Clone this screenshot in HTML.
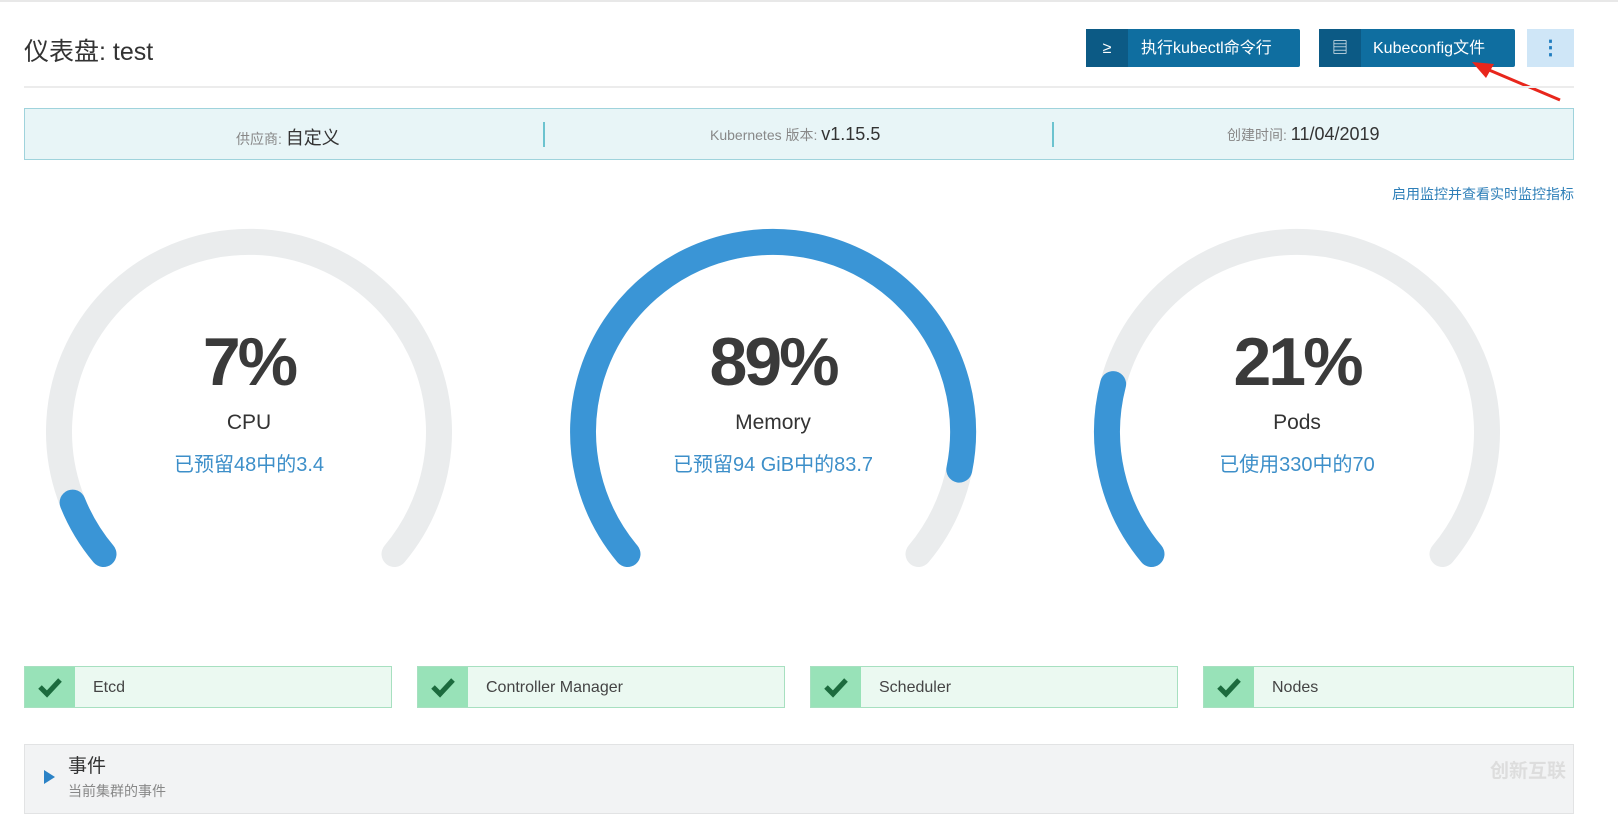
<!DOCTYPE html>
<html><head><meta charset="utf-8"><style>
body{margin:0;width:1618px;height:802px;background:#fff;font-family:"Liberation Sans","Noto Sans CJK SC",sans-serif;position:relative;overflow:hidden;color:#333}
.a{position:absolute}
.btn{position:absolute;top:29px;height:38px;background:#0f6ea0;color:#fff;font-size:16px;line-height:40px;border-radius:2px}
.btn .ic{position:absolute;left:0;top:0;width:42px;height:38px;background:#0c5a85;text-align:center}
.sb{position:absolute;top:666px;height:42px;width:368px;background:#ebf9f1;border:1px solid #a7e0c0;box-sizing:border-box}
.sb .ck{position:absolute;left:0;top:0;width:50px;height:40px;background:#98e2b8}
.sb .t{position:absolute;left:68px;top:0;line-height:41px;font-size:16px;color:#444}
.g{position:absolute;text-align:center;width:400px}
.pct{font-size:68px;font-weight:bold;color:#3a3a3a;letter-spacing:-3px}
.lbl{font-size:21px;color:#333}
.sub{font-size:20px;color:#3d8fc9}
</style></head><body>
<div class="a" style="top:0;left:0;width:1618px;height:2px;background:#e8e8e8"></div>
<div class="a" style="left:24px;top:32px;font-size:25px;color:#333">仪表盘: test</div>
<div class="btn" style="left:1086px;width:214px"><div class="ic">≥</div><span style="position:absolute;left:55px">执行kubectl命令行</span></div>
<div class="btn" style="left:1319px;width:196px"><div class="ic">▤</div><span style="position:absolute;left:54px">Kubeconfig文件</span></div>
<div class="a" style="left:1527px;top:29px;width:47px;height:38px;background:#cfe6f7;color:#1f7cbf;text-align:center;line-height:38px;font-size:20px;font-weight:bold">⋮</div>
<svg class="a" style="left:1470px;top:60px" width="100" height="50"><line x1="90" y1="40" x2="12" y2="7" stroke="#e8261c" stroke-width="3"/><polygon points="2,2 24,4 16,18" fill="#e8261c"/></svg>
<div class="a" style="left:24px;top:86px;width:1550px;height:2px;background:#ececec"></div>
<div class="a" style="left:24px;top:108px;width:1550px;height:52px;background:#e8f5f7;border:1px solid #9fd3dc;box-sizing:border-box"></div>
<div class="a" style="left:543px;top:122px;width:2px;height:25px;background:#6cc3cf"></div>
<div class="a" style="left:1052px;top:122px;width:2px;height:25px;background:#6cc3cf"></div>
<div class="a" style="left:236px;top:124px;font-size:18px"><span style="font-size:14px;color:#888">供应商: </span>自定义</div>
<div class="a" style="left:710px;top:124px;font-size:18px"><span style="font-size:14px;color:#888">Kubernetes 版本: </span>v1.15.5</div>
<div class="a" style="left:1227px;top:124px;font-size:18px"><span style="font-size:14px;color:#888">创建时间: </span>11/04/2019</div>
<div class="a" style="right:44px;top:184px;font-size:14px;color:#2e7fb8">启用监控并查看实时监控指标</div>
<svg class="a" style="left:0;top:0" width="1618" height="650" fill="none" stroke-linecap="round" stroke-width="26">
<g stroke="#eaeced">
<path d="M103.5 554 A190 190 0 1 1 394.5 554"/>
<path d="M627.5 554 A190 190 0 1 1 918.5 554"/>
<path d="M1151.5 554 A190 190 0 1 1 1442.5 554"/>
</g>
<g stroke="#3a95d6">
<path d="M103.5 554 A190 190 0 0 1 72.6 502.6"/>
<path d="M627.5 554 A190 190 0 1 1 959.3 469.6"/>
<path d="M1151.5 554 A190 190 0 0 1 1113.1 384.1"/>
</g>
</svg>
<div class="g" style="left:49px;top:323px"><div class="pct">7%</div><div class="lbl" style="margin-top:10px">CPU</div><div class="sub" style="margin-top:13px">已预留48中的3.4</div></div>
<div class="g" style="left:573px;top:323px"><div class="pct">89%</div><div class="lbl" style="margin-top:10px">Memory</div><div class="sub" style="margin-top:13px">已预留94 GiB中的83.7</div></div>
<div class="g" style="left:1097px;top:323px"><div class="pct">21%</div><div class="lbl" style="margin-top:10px">Pods</div><div class="sub" style="margin-top:13px">已使用330中的70</div></div>
<svg width="0" height="0" style="position:absolute"><defs><path id="ck" d="M15 20 L22 27 L35 13" fill="none" stroke="#1c6b3e" stroke-width="5"/></defs></svg>
<div class="sb" style="left:24px"><div class="ck"><svg width="50" height="40"><use href="#ck"/></svg></div><div class="t">Etcd</div></div>
<div class="sb" style="left:417px"><div class="ck"><svg width="50" height="40"><use href="#ck"/></svg></div><div class="t">Controller Manager</div></div>
<div class="sb" style="left:810px"><div class="ck"><svg width="50" height="40"><use href="#ck"/></svg></div><div class="t">Scheduler</div></div>
<div class="sb" style="left:1203px;width:371px"><div class="ck"><svg width="50" height="40"><use href="#ck"/></svg></div><div class="t">Nodes</div></div>
<div class="a" style="left:24px;top:744px;width:1550px;height:70px;background:#f2f3f4;border:1px solid #e2e3e4;box-sizing:border-box"></div>
<div class="a" style="left:44px;top:770px;width:0;height:0;border-left:11px solid #2b82c6;border-top:7px solid transparent;border-bottom:7px solid transparent"></div>
<div class="a" style="left:68px;top:751px;font-size:19px;color:#333">事件</div>
<div class="a" style="left:68px;top:781px;font-size:14px;color:#888">当前集群的事件</div>
<div class="a" style="left:1490px;top:756px;font-size:19px;color:#ddd;font-weight:bold">创新互联</div>
</body></html>
